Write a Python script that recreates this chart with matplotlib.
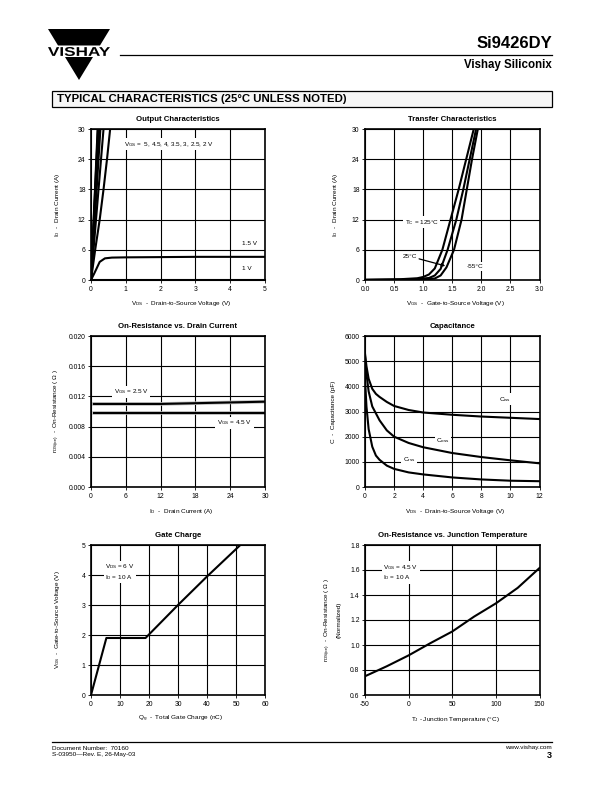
import numpy as np
import matplotlib
matplotlib.use('Agg')
import matplotlib.pyplot as plt
from matplotlib.textpath import TextPath
from matplotlib.font_manager import FontProperties
from matplotlib.patches import PathPatch, Polygon, Rectangle
from matplotlib.transforms import Affine2D

plt.rcParams['font.family'] = ['Liberation Sans', 'DejaVu Sans']
plt.rcParams['mathtext.fontset'] = 'custom'
plt.rcParams['mathtext.rm'] = 'Liberation Sans'
plt.rcParams['mathtext.it'] = 'Liberation Sans:italic'
plt.rcParams['mathtext.bf'] = 'Liberation Sans:bold'

# ---------------- data ----------------
# Output characteristics
out_steep_vgs = ['5', '4.5', '4', '3.5', '3', '2.5']
out_steep_vds_at_30A = [0.19, 0.20, 0.215, 0.235, 0.27, 0.36]
out_2v_vds = [0, 0.12, 0.25, 0.36, 0.46, 0.55]
out_2v_id = [0, 6, 12, 18, 24, 30]
out_15v_vds = [0, 0.1, 0.25, 0.4, 0.6, 1.0, 2.0, 3.0, 4.0, 5.0]
out_15v_id = [0, 1.4, 3.6, 4.3, 4.45, 4.5, 4.55, 4.6, 4.6, 4.6]
out_1v_vds = [0, 5.0]
out_1v_id = [0.05, 0.05]

# Transfer characteristics
tr_125_vgs = [0.0, 0.6, 0.9, 1.0, 1.1, 1.2, 1.33, 1.47, 1.61, 1.74, 1.87]
tr_125_id = [0.05, 0.15, 0.35, 0.6, 1.1, 2.3, 6, 12, 18, 24, 30]
tr_25_vgs = [0.0, 0.8, 1.1, 1.2, 1.3, 1.42, 1.57, 1.69, 1.80, 1.91]
tr_25_id = [0.02, 0.1, 0.4, 0.9, 2.2, 6, 12, 18, 24, 30]
tr_m55_vgs = [0.0, 1.0, 1.2, 1.3, 1.4, 1.53, 1.66, 1.75, 1.84, 1.94]
tr_m55_id = [0.0, 0.05, 0.3, 0.9, 2.5, 6, 12, 18, 24, 30]

# On-resistance vs drain current
ron_id = [0.5, 6, 12, 18, 24, 30]
ron_25v = [0.0110, 0.0110, 0.0110, 0.0111, 0.0112, 0.0113]
ron_45v = [0.0098, 0.0098, 0.0098, 0.0098, 0.0098, 0.0098]

# Capacitance
cap_ciss_v = [0, 0.1, 0.25, 0.5, 0.75, 1, 1.5, 2, 3, 4, 6, 8, 10, 12]
cap_ciss = [5300, 4800, 4300, 3900, 3700, 3580, 3380, 3220, 3060, 2960, 2870, 2800, 2750, 2700]
cap_coss_v = [0, 0.1, 0.25, 0.5, 1, 1.5, 2, 3, 4, 6, 8, 10, 12]
cap_coss = [5200, 4500, 3800, 3200, 2650, 2250, 2000, 1750, 1580, 1350, 1190, 1060, 940]
cap_crss_v = [0, 0.1, 0.25, 0.5, 0.75, 1, 1.5, 2, 3, 4, 6, 8, 10, 12]
cap_crss = [4300, 3200, 2300, 1600, 1250, 1080, 850, 720, 580, 500, 380, 300, 250, 230]

# Gate charge
gc_qg = [0, 5.3, 18.8, 30, 40, 51.5]
gc_vgs = [0, 1.9, 1.9, 3.0, 3.95, 5.0]

# On-resistance vs junction temperature
tj_t = [-50, -25, 0, 25, 50, 75, 100, 125, 150]
tj_r = [0.75, 0.83, 0.917, 1.015, 1.108, 1.227, 1.333, 1.457, 1.616]

# ---------------- figure ----------------
W, H = 612, 792
fig = plt.figure(figsize=(6.12, 7.92), dpi=100)
bg = fig.add_axes([0, 0, 1, 1])
bg.set_xlim(0, W)
bg.set_ylim(H, 0)
bg.axis('off')

TICK_FS = 4.9
LAB_FS = 4.6
ANN_FS = 4.6
TITLE_FS = 5.6
LW = 1.5


def make_ax(l, t, r, b):
    return fig.add_axes([l / W, 1 - b / H, (r - l) / W, (b - t) / H])


def style(ax, xlim, ylim, xticks, yticks, xlabels, ylabels):
    ax.set_xlim(xlim)
    ax.set_ylim(ylim)
    ax.set_xticks(xticks)
    ax.set_yticks(yticks)
    ax.set_xticklabels(xlabels)
    ax.set_yticklabels(ylabels)
    ax.grid(True, color='black', lw=0.8)
    ax.set_axisbelow(True)
    for s in ax.spines.values():
        s.set_linewidth(1.2)
    ax.tick_params(length=2.5, width=0.6, labelsize=TICK_FS, pad=1.5,
                   direction='out', colors='black')


def label_box(ax, x, y, s, ha='left'):
    ax.text(x, y, s, fontsize=ANN_FS, ha=ha, va='center', zorder=4,
            bbox=dict(fc='white', ec='none', pad=1.2))


LEFT = (91, 265)
RIGHT = (365, 539.5)
ROWS = [(129, 280), (336, 487), (545, 695)]


def frame(col, row, title, xlabel, ylabel, ylx):
    l, r = col
    t, b = row
    ax = make_ax(l, t, r, b)
    bg.text((l + r) / 2, t - 9.7, title, fontsize=TITLE_FS, fontweight='bold',
            ha='center', va='center')
    bg.text((l + r) / 2 + 3, b + 24, xlabel, fontsize=LAB_FS, ha='center', va='center')
    if isinstance(ylabel, list):
        for (xx, s) in ylabel:
            bg.text(xx, (t + b) / 2, s, fontsize=LAB_FS, ha='center', va='center',
                    rotation=90)
    else:
        bg.text(ylx, (t + b) / 2, ylabel, fontsize=LAB_FS, ha='center', va='center',
                rotation=90)
    return ax


# ---- Output characteristics
ax = frame(LEFT, ROWS[0], 'Output Characteristics',
           r'V$_\mathrm{DS}$  -  Drain-to-Source Voltage (V)',
           r'I$_\mathrm{D}$  -  Drain Current (A)', 57)
style(ax, (0, 5), (0, 30), range(0, 6), range(0, 31, 6),
      [str(v) for v in range(0, 6)], [str(v) for v in range(0, 31, 6)])
for v in out_steep_vds_at_30A:
    ax.plot([0, v], [0, 30], color='black', lw=LW, zorder=3)
ax.plot(out_2v_vds, out_2v_id, color='black', lw=LW, zorder=3)
ax.plot(out_15v_vds, out_15v_id, color='black', lw=LW, zorder=3)
ax.plot(out_1v_vds, out_1v_id, color='black', lw=LW, zorder=3, clip_on=False)
label_box(ax, 0.95, 27.0, r'V$_\mathrm{GS}$ =  5, 4.5, 4, 3.5, 3, 2.5, 2 V')
label_box(ax, 4.33, 7.3, '1.5 V')
label_box(ax, 4.33, 2.3, '1 V')

# ---- Transfer characteristics
ax = frame(RIGHT, ROWS[0], 'Transfer Characteristics',
           r'V$_\mathrm{GS}$  -  Gate-to-Source Voltage (V)',
           r'I$_\mathrm{D}$  -  Drain Current (A)', 335)
xt = [0, 0.5, 1.0, 1.5, 2.0, 2.5, 3.0]
style(ax, (0, 3), (0, 30), xt, range(0, 31, 6),
      ['%.1f' % v for v in xt], [str(v) for v in range(0, 31, 6)])
ax.plot(tr_125_vgs, tr_125_id, color='black', lw=LW, zorder=3)
ax.plot(tr_25_vgs, tr_25_id, color='black', lw=LW, zorder=3)
ax.plot(tr_m55_vgs, tr_m55_id, color='black', lw=LW, zorder=3)
label_box(ax, 0.68, 11.5, r'T$_\mathrm{C}$ = 125°C')
label_box(ax, 0.64, 4.7, '25°C')
label_box(ax, 1.75, 2.7, '-55°C')
ax.annotate('', xy=(1.38, 2.8), xytext=(0.93, 4.2),
            arrowprops=dict(arrowstyle='-|>', lw=0.9, color='black',
                            mutation_scale=5, shrinkA=0, shrinkB=0), zorder=5)

# ---- On-resistance vs drain current
ax = frame(LEFT, ROWS[1], 'On-Resistance vs. Drain Current',
           r'I$_\mathrm{D}$  -  Drain Current (A)',
           r'r$_\mathrm{DS(on)}$  -  On-Resistance ( Ω )', 57)
yt = [0.000, 0.004, 0.008, 0.012, 0.016, 0.020]
style(ax, (0, 30), (0, 0.020), range(0, 31, 6), yt,
      [str(v) for v in range(0, 31, 6)], ['%.3f' % v for v in yt])
ax.plot(ron_id, ron_25v, color='#bbbbbb', lw=2.6, zorder=2.5)
ax.plot(ron_id, ron_45v, color='#bbbbbb', lw=2.6, zorder=2.5)
ax.plot(ron_id, ron_25v, color='black', lw=LW, zorder=3)
ax.plot(ron_id, ron_45v, color='black', lw=LW, zorder=3)
label_box(ax, 3.9, 0.0126, r'V$_\mathrm{GS}$ = 2.5 V')
label_box(ax, 21.7, 0.0085, r'V$_\mathrm{GS}$ = 4.5 V')

# ---- Capacitance
ax = frame(RIGHT, ROWS[1], 'Capacitance',
           r'V$_\mathrm{DS}$  -  Drain-to-Source Voltage (V)',
           'C  -  Capacitance (pF)', 334)
style(ax, (0, 12), (0, 6000), range(0, 13, 2), range(0, 6001, 1000),
      [str(v) for v in range(0, 13, 2)], [str(v) for v in range(0, 6001, 1000)])
ax.plot(cap_ciss_v, cap_ciss, color='black', lw=LW, zorder=3)
ax.plot(cap_coss_v, cap_coss, color='black', lw=LW, zorder=3)
ax.plot(cap_crss_v, cap_crss, color='black', lw=LW, zorder=3)
label_box(ax, 9.2, 3490, r'C$_\mathrm{iss}$')
label_box(ax, 4.9, 1840, r'C$_\mathrm{oss}$')
label_box(ax, 2.6, 1090, r'C$_\mathrm{rss}$')

# ---- Gate charge
ax = frame(LEFT, ROWS[2], 'Gate Charge',
           r'Q$_\mathrm{g}$  -  Total Gate Charge (nC)',
           r'V$_\mathrm{GS}$  -  Gate-to-Source Voltage (V)', 57)
style(ax, (0, 60), (0, 5), range(0, 61, 10), range(0, 6),
      [str(v) for v in range(0, 61, 10)], [str(v) for v in range(0, 6)])
ax.plot(gc_qg, gc_vgs, color='black', lw=LW, zorder=3)
label_box(ax, 4.9, 4.1, 'V$_\\mathrm{DS}$ = 6 V\nI$_\\mathrm{D}$ = 10 A')

# ---- On-resistance vs junction temperature
ax = frame(RIGHT, ROWS[2], 'On-Resistance vs. Junction Temperature',
           r'T$_\mathrm{J}$ - Junction Temperature (°C)',
           [(328, r'r$_\mathrm{DS(on)}$  -  On-Resistance ( Ω )'),
            (339, '(Normalized)')], None)
yt = [0.6, 0.8, 1.0, 1.2, 1.4, 1.6, 1.8]
xt = [-50, 0, 50, 100, 150]
style(ax, (-50, 150), (0.6, 1.8), xt, yt,
      [str(v) for v in xt], ['%.1f' % v for v in yt])
ax.plot(tj_t, tj_r, color='black', lw=LW, zorder=3)
label_box(ax, -29, 1.58, 'V$_\\mathrm{GS}$ = 4.5 V\nI$_\\mathrm{D}$ = 10 A')

# ---------------- header ----------------
apex = (79, 80)
top_l, top_r = 48, 110
top_y = 29


def half_w(y):
    return (top_r - top_l) / 2 * (apex[1] - y) / (apex[1] - top_y)


y1 = 45.5
bg.add_patch(Polygon([(top_l, top_y), (top_r, top_y), (apex[0] + half_w(y1), y1),
                      (apex[0] - half_w(y1), y1)], closed=True, fc='black', ec='none'))
y2 = 57
bg.add_patch(Polygon([(apex[0] - half_w(y2), y2), (apex[0] + half_w(y2), y2), apex],
                     closed=True, fc='black', ec='none'))
tp = TextPath((0, 0), 'VISHAY', prop=FontProperties(family='Liberation Sans', weight='bold'))
ext = tp.get_extents()
sx = (top_r - top_l) / ext.width
sy = 9.0 / ext.height
tr = Affine2D().translate(-ext.x0, -ext.y0).scale(sx, -sy).translate(top_l, 56.0)
bg.add_patch(PathPatch(tr.transform_path(tp), fc='black', ec='none'))

bg.plot([120, 552], [55, 55], color='black', lw=0.9)
bg.text(552, 44, 'Si9426DY', fontsize=12, fontweight='bold', ha='right', va='center')
bg.text(552, 65, 'Vishay Siliconix', fontsize=8.3, fontweight='bold', ha='right',
        va='center')

bg.add_patch(Rectangle((52, 91), 500, 16, fc='#f6f6f6', ec='black', lw=0.9))
bg.text(57, 99.3, 'TYPICAL CHARACTERISTICS (25°C UNLESS NOTED)', fontsize=8.2,
        fontweight='bold', ha='left', va='center')

# ---------------- footer ----------------
bg.plot([52, 552], [742, 742], color='black', lw=0.9)
bg.text(52, 748, 'Document Number:  70160', fontsize=4.6, ha='left', va='center')
bg.text(52, 754.5, 'S-03950\u2014Rev. E, 26-May-03', fontsize=4.6, ha='left', va='center')
bg.text(552, 748, 'www.vishay.com', fontsize=4.6, ha='right', va='center')
bg.text(552, 756, '3', fontsize=6.5, fontweight='bold', ha='right', va='center')

fig.savefig('out.png', dpi=100)
